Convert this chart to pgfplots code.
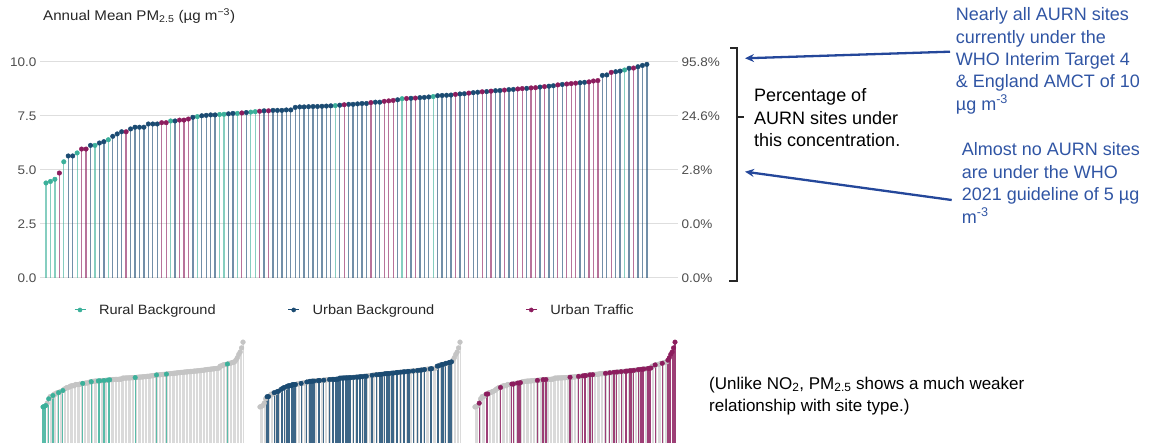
\documentclass[border=0pt]{standalone}
\usepackage{pgfplots}
\pgfplotsset{compat=1.18}
\usepackage{pgfplotstable}
\usepackage{fontspec}
\usetikzlibrary{arrows.meta}
\setmainfont{Liberation Sans}
\newfontfamily\chartfont[FakeStretch=1.08]{Liberation Sans}

\definecolor{rural}{HTML}{3BB09A}
\definecolor{urban}{HTML}{1B4B72}
\definecolor{traffic}{HTML}{8C1D5E}
\definecolor{gridc}{HTML}{DEDEDE}
\definecolor{tickc}{HTML}{4D4D4D}
\definecolor{notec}{HTML}{3055A4}
\definecolor{arrowc}{HTML}{24479A}
\definecolor{allstem}{HTML}{DADADA}
\definecolor{alldot}{HTML}{C4C4C4}

% Annual mean PM2.5 per AURN site, ranked from lowest to highest (i = rank)
\pgfplotstableread{
i v
1 4.40
2 4.47
3 4.57
5 5.38
8 5.79
12 6.14
15 6.40
29 7.27
35 7.47
40 7.57
41 7.58
44 7.62
47 7.68
48 7.70
66 7.98
81 8.30
88 8.40
131 9.63
}\rural

\pgfplotstableread{
i v
6 5.65
7 5.65
11 6.14
13 6.25
14 6.31
16 6.56
17 6.67
18 6.77
20 6.90
21 6.98
22 6.98
23 6.98
24 7.13
25 7.13
26 7.13
30 7.27
34 7.44
36 7.51
37 7.53
38 7.55
39 7.55
42 7.60
43 7.62
46 7.66
50 7.74
52 7.76
53 7.76
54 7.76
55 7.78
56 7.78
57 7.90
58 7.92
59 7.92
60 7.93
61 7.94
62 7.94
63 7.95
64 7.96
65 7.97
67 8.00
69 8.04
70 8.04
71 8.06
72 8.08
73 8.08
75 8.14
76 8.14
80 8.25
83 8.32
85 8.35
86 8.36
87 8.38
89 8.44
90 8.45
91 8.46
92 8.47
94 8.52
95 8.53
97 8.58
98 8.60
100 8.63
102 8.67
103 8.68
105 8.72
106 8.73
109 8.78
112 8.84
114 8.88
115 8.90
117 8.96
121 9.04
122 9.06
126 9.38
127 9.40
129 9.55
130 9.58
132 9.71
134 9.78
135 9.84
136 9.89
}\urban

\pgfplotstableread{
i v
4 4.86
9 5.97
10 5.97
19 6.77
27 7.19
28 7.19
31 7.31
32 7.31
33 7.36
45 7.64
49 7.72
51 7.74
68 8.02
74 8.12
77 8.18
78 8.20
79 8.22
82 8.31
84 8.33
93 8.50
96 8.56
99 8.62
101 8.65
104 8.70
107 8.75
108 8.77
110 8.80
111 8.81
113 8.86
116 8.94
118 8.98
119 9.00
120 9.02
123 9.08
124 9.12
125 9.14
128 9.52
133 9.72
137 10.1
138 10.4
139 10.8
140 11.1
141 11.6
142 12.3
}\traffic

\pgfplotsset{
  stem/.style={ycomb, no markers, line width=1.3pt, draw=#1, draw opacity=0.62, forget plot},
  dot/.style={only marks, mark=*, mark size=2.3pt, color=#1, forget plot},
  graystem/.style={ycomb, no markers, line width=0.9pt, draw=allstem, forget plot},
  graydot/.style={only marks, mark=*, mark size=2.4pt, color=alldot, forget plot},
  hstem/.style={ycomb, no markers, line width=1.2pt, draw=#1, draw opacity=0.85, forget plot},
  hdot/.style={only marks, mark=*, mark size=2.3pt, color=#1, forget plot},
  panel/.style={scale only axis, width=200pt, height=102.5pt, xmin=1, xmax=142,
    ymin=0, ymax=12.5, hide axis, clip=false, anchor=south west},
}

\begin{document}
\begin{tikzpicture}
\path[use as bounding box] (0pt,0pt) rectangle (1154pt,-446pt);

% title
\node[anchor=base west, inner sep=0pt, text=black!85,
  font=\chartfont\fontsize{14}{16}\selectfont] at (43pt,-20.7pt)
  {Annual Mean PM\textsubscript{2.5} (µg m\textsuperscript{−3})};

% main lollipop chart
\begin{axis}[
  at={(40pt,-278pt)}, anchor=south west,
  scale only axis, width=638pt, height=216pt,
  xmin=-0.348, xmax=143, ymin=0, ymax=10,
  clip=false,
  axis line style={draw=none},
  xtick=\empty,
  ytick={0,2.5,5,7.5,10},
  yticklabels={0.0,2.5,5.0,7.5,10.0},
  major tick length=0pt,
  ymajorgrids, grid style={draw=gridc, line width=1pt},
  yticklabel style={font=\chartfont\fontsize{12.5}{14}\selectfont, text=tickc},
  legend columns=3,
  legend style={at={(0.0533,-0.148)}, anchor=west, draw=none, fill=none,
    inner sep=0pt, outer sep=0pt, text=black!85,
    font=\chartfont\fontsize{13.5}{15}\selectfont,
    /tikz/column 1/.style={column sep=11pt},
    /tikz/column 2/.style={column sep=70pt},
    /tikz/column 3/.style={column sep=11pt},
    /tikz/column 4/.style={column sep=89pt},
    /tikz/column 5/.style={column sep=11pt}},
]
\addlegendimage{legend image code/.code={\draw[rural, line width=1pt] (0pt,0pt)--(11pt,0pt); \fill[rural] (5.5pt,0pt) circle (2.1pt);}}
\addlegendentry{Rural Background}
\addlegendimage{legend image code/.code={\draw[urban, line width=1pt] (0pt,0pt)--(11pt,0pt); \fill[urban] (5.5pt,0pt) circle (2.1pt);}}
\addlegendentry{Urban Background}
\addlegendimage{legend image code/.code={\draw[traffic, line width=1pt] (0pt,0pt)--(11pt,0pt); \fill[traffic] (5.5pt,0pt) circle (2.1pt);}}
\addlegendentry{Urban Traffic}

\addplot[stem=rural] table[x=i, y=v] {\rural};
\addplot[stem=urban] table[x=i, y=v] {\urban};
\addplot[stem=traffic, restrict x to domain=1:136] table[x=i, y=v] {\traffic};
\addplot[dot=rural] table[x=i, y=v] {\rural};
\addplot[dot=urban] table[x=i, y=v] {\urban};
\addplot[dot=traffic, restrict x to domain=1:136] table[x=i, y=v] {\traffic};
\end{axis}

% right-hand percentage labels
\begin{axis}[
  at={(40pt,-278pt)}, anchor=south west,
  scale only axis, width=638pt, height=216pt,
  xmin=0, xmax=1, ymin=0, ymax=10,
  axis line style={draw=none},
  xtick=\empty,
  ytick={0,2.5,5,7.5,10},
  yticklabels={0.0\%,0.0\%,2.8\%,24.6\%,95.8\%},
  yticklabel pos=right,
  major tick length=0pt,
  yticklabel style={font=\chartfont\fontsize{12.5}{14}\selectfont, text=tickc},
]
\end{axis}

% bracket and its caption
\draw[line width=1.2pt, black!85] (730pt,-48pt) -- (737pt,-48pt) -- (737pt,-281pt) -- (729pt,-281pt);
\draw[line width=1.2pt, black!85] (737pt,-117pt) -- (744pt,-117pt);
\begin{scope}[every node/.style={anchor=base west, inner sep=0pt, font=\fontsize{18}{22}\selectfont, text=black}]
\node at (754pt,-101.7pt) {Percentage of};
\node at (754pt,-124.2pt) {AURN sites under};
\node at (754pt,-146.7pt) {this concentration.};
\end{scope}

% callouts
\begin{scope}[every node/.style={anchor=base west, inner sep=0pt, font=\fontsize{18}{22}\selectfont, text=notec}]
\node at (955.7pt,-20.7pt) {Nearly all AURN sites};
\node at (955.7pt,-43.2pt) {currently under the};
\node at (955.7pt,-65.5pt) {WHO Interim Target 4};
\node at (955.7pt,-87.9pt) {\& England AMCT of 10};
\node at (955.7pt,-110.2pt) {µg m\textsuperscript{-3}};
\node at (961.7pt,-156pt) {Almost no AURN sites};
\node at (961.7pt,-178.4pt) {are under the WHO};
\node at (961.7pt,-200.8pt) {2021 guideline of 5 µg};
\node at (961.7pt,-223.2pt) {m\textsuperscript{-3}};
\end{scope}
\draw[arrowc, line width=2.3pt, -{Stealth[length=9pt,width=8pt]}] (950pt,-51.7pt) -- (745pt,-58.3pt);
\draw[arrowc, line width=2.3pt, -{Stealth[length=9pt,width=8pt]}] (951.7pt,-200pt) -- (745pt,-171.7pt);

% small multiples: one site type highlighted against all sites
\begin{axis}[panel, at={(43pt,-443pt)}]
\addplot[graystem] table[x=i, y=v] {\urban};
\addplot[graystem] table[x=i, y=v] {\traffic};
\addplot[graydot] table[x=i, y=v] {\urban};
\addplot[graydot] table[x=i, y=v] {\traffic};
\addplot[hstem=rural] table[x=i, y=v] {\rural};
\addplot[hdot=rural] table[x=i, y=v] {\rural};
\end{axis}

\begin{axis}[panel, at={(260pt,-443pt)}]
\addplot[graystem] table[x=i, y=v] {\rural};
\addplot[graystem] table[x=i, y=v] {\traffic};
\addplot[graydot] table[x=i, y=v] {\rural};
\addplot[graydot] table[x=i, y=v] {\traffic};
\addplot[hstem=urban] table[x=i, y=v] {\urban};
\addplot[hdot=urban] table[x=i, y=v] {\urban};
\end{axis}

\begin{axis}[panel, at={(475pt,-443pt)}]
\addplot[graystem] table[x=i, y=v] {\rural};
\addplot[graystem] table[x=i, y=v] {\urban};
\addplot[graydot] table[x=i, y=v] {\rural};
\addplot[graydot] table[x=i, y=v] {\urban};
\addplot[hstem=traffic] table[x=i, y=v] {\traffic};
\addplot[hdot=traffic] table[x=i, y=v] {\traffic};
\end{axis}

\node[anchor=base west, inner sep=0pt, font=\fontsize{17}{21}\selectfont, text=black] at (709pt,-389pt)
  {(Unlike NO\textsubscript{2}, PM\textsubscript{2.5} shows a much weaker};
\node[anchor=base west, inner sep=0pt, font=\fontsize{17}{21}\selectfont, text=black] at (709pt,-411pt)
  {relationship with site type.)};
\end{tikzpicture}
\end{document}
